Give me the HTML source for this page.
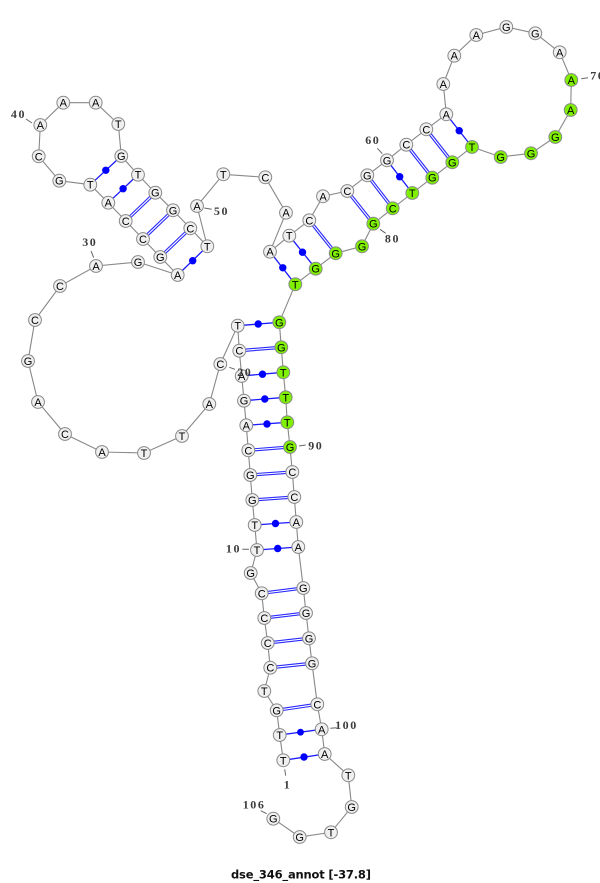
<!DOCTYPE html>
<html><head><meta charset="utf-8"><style>
html,body{margin:0;padding:0;background:#fff}
svg{display:block}
.c circle{r:6.4px}
.n{font:11px "Liberation Sans",sans-serif;fill:#000;text-anchor:middle}
.l{font:bold 12px "Liberation Serif",serif;fill:#3c3c3c;letter-spacing:1.6px;text-anchor:middle}
.t{font:bold 11.5px "DejaVu Sans",sans-serif;fill:#111}
</style></head><body>
<svg width="600" height="883" viewBox="0 0 600 883" xmlns="http://www.w3.org/2000/svg">
<rect width="600" height="883" fill="#fff"/>
<path fill="none" stroke="#888" stroke-width="1.1" d="M283.3 760.3L279.7 735L276.7 710.3L264.3 691L270.3 667.7L267.7 643L264.3 618L261.7 593.3L250.7 573L257 550L254.7 525L252.3 500L250.3 475L248.3 450.3L246.3 425.3L244 400.7L241.7 376L239.3 350.7L237.7 325.7L220.3 364L209.3 404L182 436L144 453L102 452L65 434L38 402L28 361L35 320L60 286L96 266L138 262L177.7 275L160.3 257L143 239L125.7 221L108.3 202.7L90.3 184.7L59.3 180.7L38.7 156.3L40.3 125L63.3 102.7L95.7 102.7L118.3 124L121.3 156L138 174.7L155.3 192.7L173 210.3L190.3 228.3L207.3 246.3L197 206L223.3 174.3L265.3 177.3L286 212.7L270 251.7L289.3 235.7L309.3 220.3L323 196.3L347.3 191L367.3 175.3L387 160.3L406.3 144.7L426.3 129.3L446.3 114.3L443.3 84L454.3 55.7L476.3 35L506.3 27L535.3 33.3L559.7 52.3L571.3 80L570.7 110L555.3 137L531 153.3L500.7 157L472 147L452.3 162.3L432.3 177.7L412.3 193L392.7 208.3L373.3 223.7L362 246.3L335.7 253.3L315.7 268.7L295.3 284.3L279.3 322.3L281.3 347.3L283.3 372.3L285.7 397.3L287.3 422.3L290 447L292.3 472L294.3 497L296.3 522L298.3 547L303.3 588L306 613L309 638.3L312 663.3L317.3 704.3L321.7 729.3L324.7 754L348.3 775.3L351.7 807L331 832.3L299.7 837L273.3 818.7"/>
<!-- single (dot) pairs -->
<path fill="none" stroke="#1a1aff" stroke-width="1.3" d="M283.3 760.3L324.7 754M279.7 735L321.7 729.3M257 550L298.3 547M254.7 525L296.3 522M246.3 425.3L287.3 422.3M244 400.7L285.7 397.3M241.7 376L283.3 372.3M237.7 325.7L279.3 322.3M177.7 275L207.3 246.3M108.3 202.7L138 174.7M90.3 184.7L121.3 156M270 251.7L295.3 284.3M289.3 235.7L315.7 268.7M387 160.3L412.3 193M446.3 114.3L472 147"/>
<g fill="#00f">
<circle cx="304" cy="757" r="3.7"/><circle cx="300.5" cy="732.2" r="3.4"/><circle cx="277.7" cy="548.5" r="3.7"/><circle cx="275.5" cy="523.5" r="3.7"/><circle cx="267" cy="424" r="3.7"/><circle cx="264.8" cy="399" r="3.7"/><circle cx="262.5" cy="374.2" r="3.7"/><circle cx="258.2" cy="324" r="3.7"/><circle cx="192.7" cy="260.7" r="3.7"/><circle cx="123.1" cy="188.7" r="3.7"/><circle cx="105.8" cy="170.3" r="3.7"/><circle cx="282.8" cy="267.8" r="3.7"/><circle cx="302.5" cy="252.2" r="3.7"/><circle cx="399.7" cy="176.7" r="3.7"/><circle cx="459.2" cy="130.7" r="3.7"/>
</g>
<!-- double pairs -->
<path fill="none" stroke="#2a2aff" stroke-width="3.3" d="M276.7 710.3L317.3 704.3M270.3 667.7L312 663.3M267.7 643L309 638.3M264.3 618L306 613M261.7 593.3L303.3 588M252.3 500L294.3 497M250.3 475L292.3 472M248.3 450.3L290 447M239.3 350.7L281.3 347.3M160.3 257L190.3 228.3M143 239L173 210.3M125.7 221L155.3 192.7M309.3 220.3L335.7 253.3M347.3 191L373.3 223.7M367.3 175.3L392.7 208.3M406.3 144.7L432.3 177.7M426.3 129.3L452.3 162.3"/>
<path fill="none" stroke="#fff" stroke-width="1.1" d="M276.7 710.3L317.3 704.3M270.3 667.7L312 663.3M267.7 643L309 638.3M264.3 618L306 613M261.7 593.3L303.3 588M252.3 500L294.3 497M250.3 475L292.3 472M248.3 450.3L290 447M239.3 350.7L281.3 347.3M160.3 257L190.3 228.3M143 239L173 210.3M125.7 221L155.3 192.7M309.3 220.3L335.7 253.3M347.3 191L373.3 223.7M367.3 175.3L392.7 208.3M406.3 144.7L432.3 177.7M426.3 129.3L452.3 162.3"/>
<!-- label ticks -->
<path fill="none" stroke="#666" stroke-width="1" d="M26 119L32 123M91 251L93.7 257.7M204.3 208L211.7 209.3M377.3 148.3L382.3 153.7M581.3 78.7L588 77.7M380 229.3L385.7 233.3M299 446L305.7 445M242.3 549.3L249 549.3M229.3 367.3L235 369.3M330.3 728.3L336.7 727.7M284.7 769.3L285.7 775.7M260.7 810.7L266.7 813.7"/>
<!-- nodes -->
<g class="c" fill="#f0f0f0" stroke="#888" stroke-width="1">
<circle cx="283.3" cy="760.3" r="6"/><circle cx="279.7" cy="735" r="6"/><circle cx="276.7" cy="710.3" r="6"/><circle cx="264.3" cy="691" r="6"/><circle cx="270.3" cy="667.7" r="6"/><circle cx="267.7" cy="643" r="6"/><circle cx="264.3" cy="618" r="6"/><circle cx="261.7" cy="593.3" r="6"/><circle cx="250.7" cy="573" r="6"/><circle cx="257" cy="550" r="6"/>
<circle cx="254.7" cy="525" r="6"/><circle cx="252.3" cy="500" r="6"/><circle cx="250.3" cy="475" r="6"/><circle cx="248.3" cy="450.3" r="6"/><circle cx="246.3" cy="425.3" r="6"/><circle cx="244" cy="400.7" r="6"/><circle cx="241.7" cy="376" r="6"/><circle cx="239.3" cy="350.7" r="6"/><circle cx="237.7" cy="325.7" r="6"/><circle cx="220.3" cy="364" r="6"/>
<circle cx="209.3" cy="404" r="6"/><circle cx="182" cy="436" r="6"/><circle cx="144" cy="453" r="6"/><circle cx="102" cy="452" r="6"/><circle cx="65" cy="434" r="6"/><circle cx="38" cy="402" r="6"/><circle cx="28" cy="361" r="6"/><circle cx="35" cy="320" r="6"/><circle cx="60" cy="286" r="6"/><circle cx="96" cy="266" r="6"/>
<circle cx="138" cy="262" r="6"/><circle cx="177.7" cy="275" r="6"/><circle cx="160.3" cy="257" r="6"/><circle cx="143" cy="239" r="6"/><circle cx="125.7" cy="221" r="6"/><circle cx="108.3" cy="202.7" r="6"/><circle cx="90.3" cy="184.7" r="6"/><circle cx="59.3" cy="180.7" r="6"/><circle cx="38.7" cy="156.3" r="6"/><circle cx="40.3" cy="125" r="6"/>
<circle cx="63.3" cy="102.7" r="6"/><circle cx="95.7" cy="102.7" r="6"/><circle cx="118.3" cy="124" r="6"/><circle cx="121.3" cy="156" r="6"/><circle cx="138" cy="174.7" r="6"/><circle cx="155.3" cy="192.7" r="6"/><circle cx="173" cy="210.3" r="6"/><circle cx="190.3" cy="228.3" r="6"/><circle cx="207.3" cy="246.3" r="6"/><circle cx="197" cy="206" r="6"/>
<circle cx="223.3" cy="174.3" r="6"/><circle cx="265.3" cy="177.3" r="6"/><circle cx="286" cy="212.7" r="6"/><circle cx="270" cy="251.7" r="6"/><circle cx="289.3" cy="235.7" r="6"/><circle cx="309.3" cy="220.3" r="6"/><circle cx="323" cy="196.3" r="6"/><circle cx="347.3" cy="191" r="6"/><circle cx="367.3" cy="175.3" r="6"/><circle cx="387" cy="160.3" r="6"/>
<circle cx="406.3" cy="144.7" r="6"/><circle cx="426.3" cy="129.3" r="6"/><circle cx="446.3" cy="114.3" r="6"/><circle cx="443.3" cy="84" r="6"/><circle cx="454.3" cy="55.7" r="6"/><circle cx="476.3" cy="35" r="6"/><circle cx="506.3" cy="27" r="6"/><circle cx="535.3" cy="33.3" r="6"/><circle cx="559.7" cy="52.3" r="6"/>
<circle cx="292.3" cy="472" r="6"/><circle cx="294.3" cy="497" r="6"/><circle cx="296.3" cy="522" r="6"/><circle cx="298.3" cy="547" r="6"/><circle cx="303.3" cy="588" r="6"/><circle cx="306" cy="613" r="6"/><circle cx="309" cy="638.3" r="6"/><circle cx="312" cy="663.3" r="6"/><circle cx="317.3" cy="704.3" r="6"/><circle cx="321.7" cy="729.3" r="6"/>
<circle cx="324.7" cy="754" r="6"/><circle cx="348.3" cy="775.3" r="6"/><circle cx="351.7" cy="807" r="6"/><circle cx="331" cy="832.3" r="6"/><circle cx="299.7" cy="837" r="6"/><circle cx="273.3" cy="818.7" r="6"/>
</g>
<g class="c" fill="#7ff000" stroke="#888" stroke-width="1">
<circle cx="571.3" cy="80" r="6"/><circle cx="570.7" cy="110" r="6"/><circle cx="555.3" cy="137" r="6"/><circle cx="531" cy="153.3" r="6"/><circle cx="500.7" cy="157" r="6"/><circle cx="472" cy="147" r="6"/><circle cx="452.3" cy="162.3" r="6"/><circle cx="432.3" cy="177.7" r="6"/><circle cx="412.3" cy="193" r="6"/><circle cx="392.7" cy="208.3" r="6"/><circle cx="373.3" cy="223.7" r="6"/><circle cx="362" cy="246.3" r="6"/><circle cx="335.7" cy="253.3" r="6"/><circle cx="315.7" cy="268.7" r="6"/><circle cx="295.3" cy="284.3" r="6"/><circle cx="279.3" cy="322.3" r="6"/><circle cx="281.3" cy="347.3" r="6"/><circle cx="283.3" cy="372.3" r="6"/><circle cx="285.7" cy="397.3" r="6"/><circle cx="287.3" cy="422.3" r="6"/><circle cx="290" cy="447" r="6"/>
</g>
<g transform="translate(0,4)">
<text class="n" x="283.3" y="760.3">T</text><text class="n" x="279.7" y="735">T</text><text class="n" x="276.7" y="710.3">G</text><text class="n" x="264.3" y="691">T</text><text class="n" x="270.3" y="667.7">C</text><text class="n" x="267.7" y="643">C</text><text class="n" x="264.3" y="618">C</text><text class="n" x="261.7" y="593.3">C</text><text class="n" x="250.7" y="573">G</text><text class="n" x="257" y="550">T</text>
<text class="n" x="254.7" y="525">T</text><text class="n" x="252.3" y="500">G</text><text class="n" x="250.3" y="475">G</text><text class="n" x="248.3" y="450.3">C</text><text class="n" x="246.3" y="425.3">A</text><text class="n" x="244" y="400.7">G</text><text class="n" x="241.7" y="376">A</text><text class="n" x="239.3" y="350.7">C</text><text class="n" x="237.7" y="325.7">T</text><text class="n" x="220.3" y="364">C</text>
<text class="n" x="209.3" y="404">A</text><text class="n" x="182" y="436">T</text><text class="n" x="144" y="453">T</text><text class="n" x="102" y="452">A</text><text class="n" x="65" y="434">C</text><text class="n" x="38" y="402">A</text><text class="n" x="28" y="361">G</text><text class="n" x="35" y="320">C</text><text class="n" x="60" y="286">C</text><text class="n" x="96" y="266">A</text>
<text class="n" x="138" y="262">G</text><text class="n" x="177.7" y="275">A</text><text class="n" x="160.3" y="257">G</text><text class="n" x="143" y="239">C</text><text class="n" x="125.7" y="221">C</text><text class="n" x="108.3" y="202.7">A</text><text class="n" x="90.3" y="184.7">T</text><text class="n" x="59.3" y="180.7">G</text><text class="n" x="38.7" y="156.3">C</text><text class="n" x="40.3" y="125">A</text>
<text class="n" x="63.3" y="102.7">A</text><text class="n" x="95.7" y="102.7">A</text><text class="n" x="118.3" y="124">T</text><text class="n" x="121.3" y="156">G</text><text class="n" x="138" y="174.7">T</text><text class="n" x="155.3" y="192.7">G</text><text class="n" x="173" y="210.3">G</text><text class="n" x="190.3" y="228.3">C</text><text class="n" x="207.3" y="246.3">T</text><text class="n" x="197" y="206">A</text>
<text class="n" x="223.3" y="174.3">T</text><text class="n" x="265.3" y="177.3">C</text><text class="n" x="286" y="212.7">A</text><text class="n" x="270" y="251.7">A</text><text class="n" x="289.3" y="235.7">T</text><text class="n" x="309.3" y="220.3">C</text><text class="n" x="323" y="196.3">A</text><text class="n" x="347.3" y="191">C</text><text class="n" x="367.3" y="175.3">G</text><text class="n" x="387" y="160.3">G</text>
<text class="n" x="406.3" y="144.7">C</text><text class="n" x="426.3" y="129.3">C</text><text class="n" x="446.3" y="114.3">A</text><text class="n" x="443.3" y="84">A</text><text class="n" x="454.3" y="55.7">A</text><text class="n" x="476.3" y="35">A</text><text class="n" x="506.3" y="27">G</text><text class="n" x="535.3" y="33.3">G</text><text class="n" x="559.7" y="52.3">A</text><text class="n" x="571.3" y="80">A</text>
<text class="n" x="570.7" y="110">A</text><text class="n" x="555.3" y="137">G</text><text class="n" x="531" y="153.3">G</text><text class="n" x="500.7" y="157">G</text><text class="n" x="472" y="147">T</text><text class="n" x="452.3" y="162.3">G</text><text class="n" x="432.3" y="177.7">G</text><text class="n" x="412.3" y="193">T</text><text class="n" x="392.7" y="208.3">C</text><text class="n" x="373.3" y="223.7">G</text>
<text class="n" x="362" y="246.3">G</text><text class="n" x="335.7" y="253.3">G</text><text class="n" x="315.7" y="268.7">G</text><text class="n" x="295.3" y="284.3">T</text><text class="n" x="279.3" y="322.3">G</text><text class="n" x="281.3" y="347.3">G</text><text class="n" x="283.3" y="372.3">T</text><text class="n" x="285.7" y="397.3">T</text><text class="n" x="287.3" y="422.3">T</text><text class="n" x="290" y="447">G</text>
<text class="n" x="292.3" y="472">C</text><text class="n" x="294.3" y="497">C</text><text class="n" x="296.3" y="522">A</text><text class="n" x="298.3" y="547">A</text><text class="n" x="303.3" y="588">G</text><text class="n" x="306" y="613">G</text><text class="n" x="309" y="638.3">G</text><text class="n" x="312" y="663.3">G</text><text class="n" x="317.3" y="704.3">C</text><text class="n" x="321.7" y="729.3">A</text>
<text class="n" x="324.7" y="754">A</text><text class="n" x="348.3" y="775.3">T</text><text class="n" x="351.7" y="807">G</text><text class="n" x="331" y="832.3">T</text><text class="n" x="299.7" y="837">G</text><text class="n" x="273.3" y="818.7">G</text>
</g>
<!-- labels -->
<g transform="translate(0.8,4)">
<text class="l" x="286.7" y="784.3">1</text><text class="l" x="232.7" y="548.3">10</text><text class="l" x="244" y="372">20</text><text class="l" x="89" y="242">30</text><text class="l" x="17.7" y="114">40</text><text class="l" x="220.7" y="211">50</text><text class="l" x="372" y="140">60</text><text class="l" x="597" y="75.3">70</text><text class="l" x="391.7" y="238.7">80</text><text class="l" x="315" y="445.3">90</text><text class="l" x="345.7" y="725">100</text><text class="l" x="253.3" y="804.3">106</text>
</g>
<text class="t" x="231" y="878.5" textLength="140" lengthAdjust="spacing">dse_346_annot [-37.8]</text>
</svg>
</body></html>
